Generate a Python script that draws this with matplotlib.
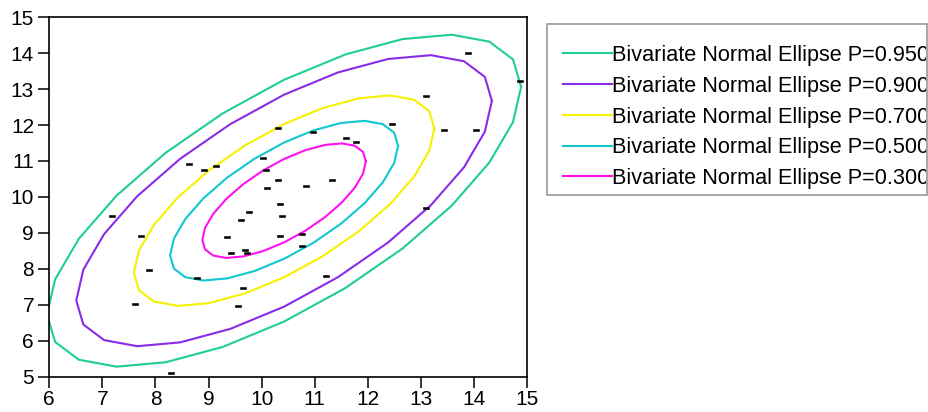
import numpy as np
import matplotlib.pyplot as plt
from matplotlib.lines import Line2D
from matplotlib.patches import Rectangle
from matplotlib.transforms import Bbox, TransformedBbox

plt.rcParams['font.family'] = ['Liberation Sans', 'DejaVu Sans']

# scatter points
x = np.array([8.63, 8.92, 9.15, 10.31, 10.96, 11.59, 11.78, 12.45, 10.02, 10.08,
              10.31, 10.10, 10.84, 11.33, 10.35, 13.88, 14.86, 13.09, 13.43, 14.03,
              7.19, 7.73, 7.88, 7.62, 8.29, 8.78, 9.56, 9.64, 9.35, 9.42,
              9.68, 9.72, 9.61, 9.77, 10.39, 10.35, 10.77, 10.77, 11.21, 13.09])
y = np.array([10.92, 10.75, 10.87, 11.92, 11.82, 11.63, 11.52, 12.02, 11.09, 10.76,
              10.47, 10.26, 10.31, 10.47, 9.81, 14.02, 13.24, 12.80, 11.87, 11.87,
              9.48, 8.92, 7.97, 7.03, 5.09, 7.74, 6.97, 7.47, 8.87, 8.43,
              8.52, 8.43, 9.37, 9.58, 9.48, 8.92, 8.98, 8.63, 7.80, 9.69])

probs = [0.95, 0.90, 0.70, 0.50, 0.30]
colors = ['#1dcf90', '#8a2be8', '#f7f000', '#10c8d0', '#ff10f0']
labels = ['Bivariate Normal Ellipse P=%.3f' % p for p in probs]

xticks = list(range(6, 16))
yticks = list(range(5, 16))

fig = plt.figure(figsize=(9.29, 4.12), dpi=100)
ax = fig.add_axes([49.3 / 929, 1 - 376.5 / 412, 477.7 / 929, 359.2 / 412])

# normal ellipses from sample mean / covariance, drawn as coarse polygons
mean = np.array([x.mean(), y.mean()])
L = np.linalg.cholesky(np.cov(x, y))
t = np.linspace(0, 2 * np.pi, 25)
circle = np.vstack([np.cos(t), np.sin(t)])
for p, c in zip(probs, colors):
    r = np.sqrt(-2 * np.log(1 - p))
    pts = mean[:, None] + r * L @ circle
    ax.plot(pts[0], pts[1], color=c, lw=1.5)

# small dash-like markers
rect = [(-1, -0.45), (1, -0.45), (1, 0.45), (-1, 0.45), (-1, -0.45)]
ax.plot(x, y, ls='none', marker=rect, ms=4.5, color='black', mec='black', mew=0.4)

ax.set_xlim(6, 15)
ax.set_ylim(5, 15)
ax.set_xticks(xticks)
ax.set_yticks(yticks)
ax.tick_params(direction='out', length=8, width=1.1, labelsize=15, pad=2)
ax.tick_params(axis='y', pad=3)
for s in ax.spines.values():
    s.set_linewidth(1.2)

handles = [Line2D([], [], color=c, lw=1.5) for c in colors]
leg = ax.legend(handles, labels, loc='upper left', bbox_to_anchor=(563 / 929, 1 - 45 / 412),
                bbox_transform=fig.transFigure, frameon=False, fontsize=15.6,
                handlelength=2.25, handletextpad=0, borderpad=0, borderaxespad=0,
                labelspacing=0.45)

# grey legend box, text cut at its right edge like the original
box = Rectangle((547 / 929, 1 - 195 / 412), 380 / 929, 171 / 412, transform=fig.transFigure,
                fill=False, edgecolor='#a0a0a0', lw=1.3)
fig.add_artist(box)
clip = TransformedBbox(Bbox.from_extents(547 / 929, 0, 926 / 929, 1), fig.transFigure)
for txt in leg.get_texts():
    txt.set_clip_box(clip)
    txt.set_clip_on(True)

fig.savefig('out.png', dpi=100)
